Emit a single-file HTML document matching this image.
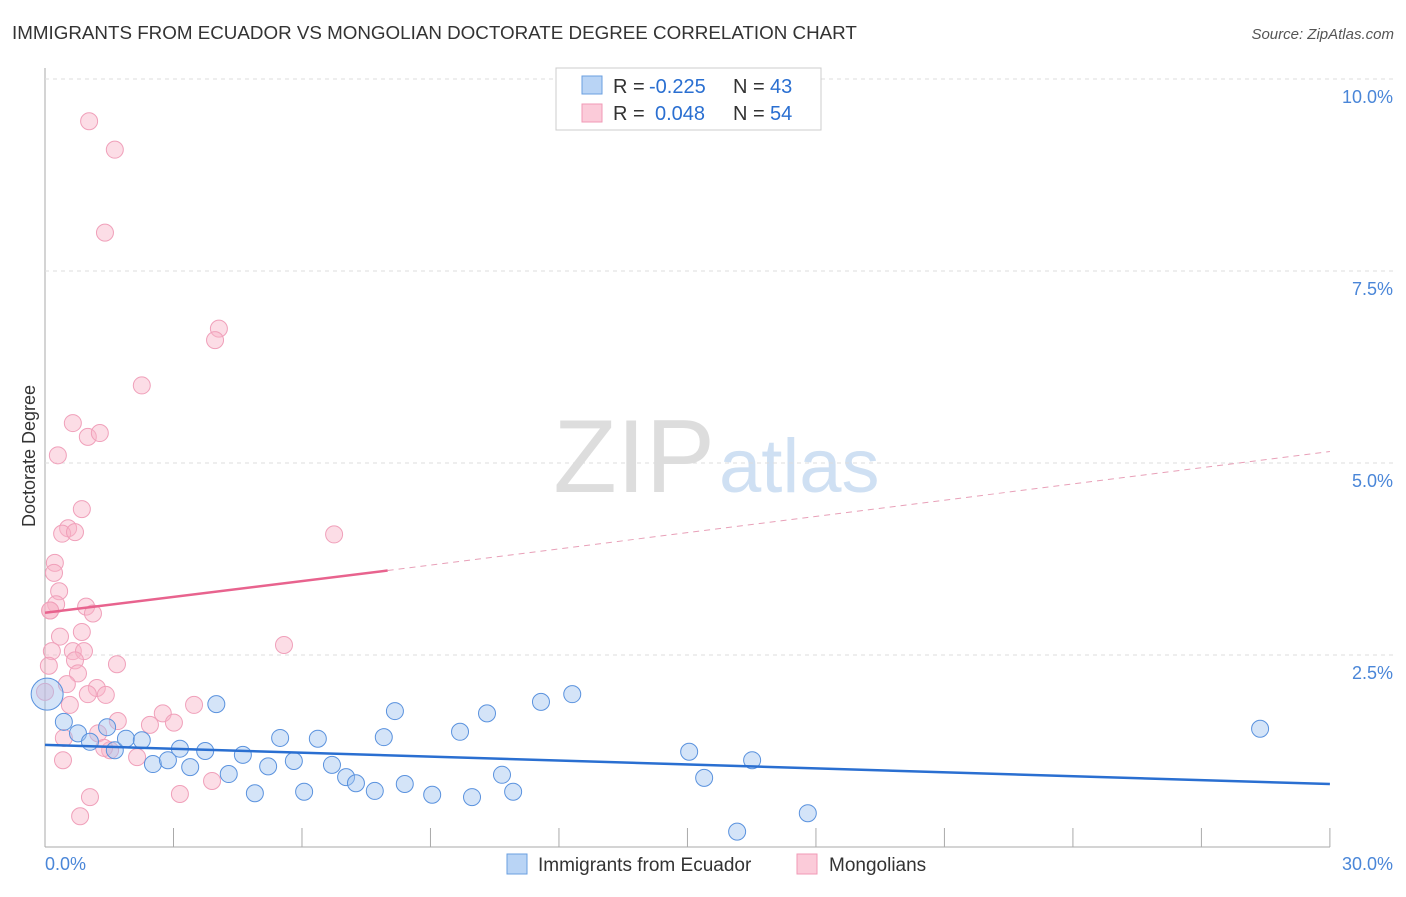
<!DOCTYPE html>
<html><head><meta charset="utf-8"><style>
body{margin:0;background:#fff;font-family:"Liberation Sans",sans-serif}
svg text{font-family:"Liberation Sans",sans-serif}
</style></head><body>
<svg id="c" width="1406" height="892">
<text x="12" y="39" font-size="18.8" fill="#333">IMMIGRANTS FROM ECUADOR VS MONGOLIAN DOCTORATE DEGREE CORRELATION CHART</text>
<text x="1394" y="39" font-size="15" fill="#555" font-style="italic" text-anchor="end">Source: ZipAtlas.com</text>
<text x="35" y="456" font-size="18" fill="#333" text-anchor="middle" transform="rotate(-90 35 456)">Doctorate Degree</text>
<text x="715" y="492" font-size="104" fill="#ddd" font-family="Liberation Serif" text-anchor="end">ZIP</text>
<text x="719" y="492" font-size="76" fill="#cfe0f3">atlas</text>
<g id="grid"></g><g id="pts"></g><g id="lines"></g>
<g>
<rect x="556" y="68" width="265" height="62" fill="#fff" stroke="#ccc"/>
<rect x="582" y="76" width="20" height="18" fill="#b9d4f5" stroke="#6a9fe0"/>
<rect x="582" y="104" width="20" height="18" fill="#fbcbd9" stroke="#f09ab6"/>
<text x="613" y="93" font-size="20" fill="#333">R =</text>
<text x="649" y="93" font-size="20" fill="#2a6fd1">-0.225</text>
<text x="733" y="93" font-size="20" fill="#333">N =</text>
<text x="770" y="93" font-size="20" fill="#2a6fd1">43</text>
<text x="613" y="120" font-size="20" fill="#333">R =</text>
<text x="655" y="120" font-size="20" fill="#2a6fd1">0.048</text>
<text x="733" y="120" font-size="20" fill="#333">N =</text>
<text x="770" y="120" font-size="20" fill="#2a6fd1">54</text>
</g>
<g>
<rect x="507" y="854" width="20" height="20" fill="#b9d4f5" stroke="#6a9fe0"/>
<text x="538" y="871" font-size="19" fill="#333">Immigrants from Ecuador</text>
<rect x="797" y="854" width="20" height="20" fill="#fbcbd9" stroke="#f09ab6"/>
<text x="829" y="871" font-size="19" fill="#333">Mongolians</text>
</g>
</svg>
<script>
const yTicks=[2.5,5.0,7.5,10.0];
const xTickLabels=["0.0%","30.0%"];
const blueX=[0.05,0.44,0.77,1.05,1.45,1.63,1.89,2.26,2.52,2.87,3.15,3.39,3.74,4.0,4.29,4.62,4.90,5.21,5.49,5.81,6.05,6.37,6.70,7.03,7.26,7.70,7.91,8.17,8.40,9.04,9.69,9.97,10.32,10.67,10.93,11.58,12.31,15.04,15.39,16.16,16.51,17.81,28.37];
const blueY=[1.99,1.63,1.48,1.37,1.56,1.26,1.41,1.39,1.08,1.13,1.28,1.04,1.25,1.86,0.95,1.20,0.70,1.05,1.42,1.12,0.72,1.41,1.07,0.91,0.83,0.73,1.43,1.77,0.82,0.68,1.50,0.65,1.74,0.94,0.72,1.89,1.99,1.24,0.90,0.20,1.13,0.44,1.54];
const pinkX=[1.03,1.63,1.40,4.06,3.97,2.26,0.65,1.00,1.28,0.30,0.86,0.54,0.40,0.70,6.75,0.23,0.21,0.33,0.26,0.12,0.96,1.12,0.35,0.86,0.16,0.65,0.91,0.70,1.68,5.58,0.09,0.77,0.51,1.21,1.00,1.42,0.00,0.58,3.48,2.75,1.70,2.45,3.01,0.44,1.24,1.52,1.38,2.15,0.42,3.90,3.15,1.05,0.82,0.12];
const pinkY=[9.45,9.08,8.0,6.75,6.6,6.01,5.52,5.34,5.39,5.10,4.4,4.15,4.08,4.1,4.07,3.70,3.57,3.33,3.16,3.08,3.13,3.04,2.74,2.80,2.55,2.55,2.55,2.43,2.38,2.63,2.36,2.26,2.12,2.07,1.99,1.98,2.02,1.85,1.85,1.74,1.64,1.59,1.62,1.42,1.48,1.26,1.29,1.17,1.13,0.86,0.69,0.65,0.40,3.08];
const blueLine=[[0,1.33],[30,0.82]];
const pinkSolid=[[0,3.05],[8.0,3.6]];
const pinkDash=[[8.0,3.6],[30,5.15]];
const NS="http://www.w3.org/2000/svg";
const X=v=>45+v*42.83, Y=v=>847-v*76.8;
function mk(tag,attrs,parent){const e=document.createElementNS(NS,tag);for(const k in attrs)e.setAttribute(k,attrs[k]);document.getElementById(parent).appendChild(e);return e;}
let e;
e=mk('line',{x1:45,y1:68,x2:45,y2:847,stroke:'#aaa'},'grid');


e=mk('line',{x1:45,y1:847,x2:1330,y2:847,stroke:'#aaa'},'grid');


for(let i=0;i<=10;i++){e=mk('line',{x1:X(i*3),y1:828,x2:X(i*3),y2:847,stroke:'#aaa'},'grid');

}
yTicks.forEach(t=>{e=mk('line',{x1:45,y1:Y(t),x2:1395,y2:Y(t),stroke:'#ddd','stroke-dasharray':'4,4'},'grid');


e=mk('text',{x:1393,y:Y(t)+24,'font-size':18,fill:'#4a86d8','text-anchor':'end'},'grid');e.textContent=t.toFixed(1)+'%';

});
e=mk('text',{x:45,y:870,'font-size':18,fill:'#4a86d8'},'grid');e.textContent=xTickLabels[0];


e=mk('text',{x:1393,y:870,'font-size':18,fill:'#4a86d8','text-anchor':'end'},'grid');e.textContent=xTickLabels[1];


pinkX.forEach((v,i)=>{e=mk('circle',{cx:X(v),cy:Y(pinkY[i]),r:8.5,fill:'rgba(248,180,200,0.45)',stroke:'#f0a0ba','stroke-width':1},'pts');

});
blueX.forEach((v,i)=>{e=mk('circle',{cx:X(v),cy:Y(blueY[i]),r:i===0?16:8.5,fill:'rgba(160,196,240,0.45)',stroke:'#5a92de','stroke-width':1},'pts');

});
e=mk('line',{x1:X(blueLine[0][0]),y1:Y(blueLine[0][1]),x2:X(blueLine[1][0]),y2:Y(blueLine[1][1]),stroke:'#2a6fd1','stroke-width':2.5},'lines');


e=mk('line',{x1:X(pinkSolid[0][0]),y1:Y(pinkSolid[0][1]),x2:X(pinkSolid[1][0]),y2:Y(pinkSolid[1][1]),stroke:'#e8638e','stroke-width':2.5},'lines');


e=mk('line',{x1:X(pinkDash[0][0]),y1:Y(pinkDash[0][1]),x2:X(pinkDash[1][0]),y2:Y(pinkDash[1][1]),stroke:'#e8a0b8','stroke-width':1,'stroke-dasharray':'6,5'},'lines');


</script>
</body></html>
